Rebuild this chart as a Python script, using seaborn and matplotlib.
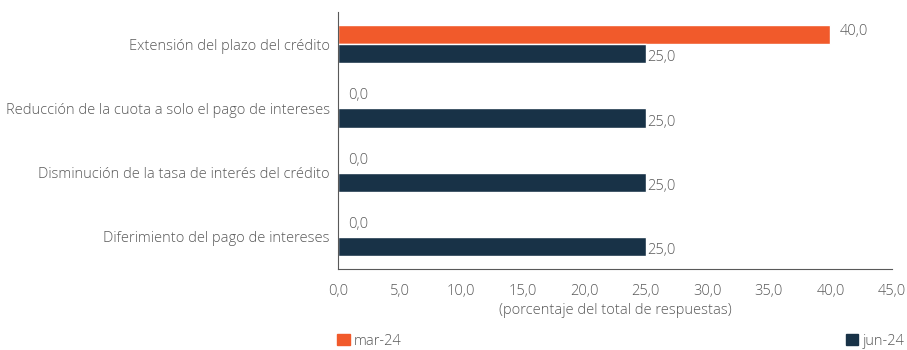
import matplotlib
matplotlib.use("Agg")
import matplotlib.pyplot as plt
import matplotlib.patches as mpatches
import seaborn as sns
import pandas as pd
import numpy as np

categories = [
    "Extensión del plazo del crédito",
    "Reducción de la cuota a solo el pago de intereses",
    "Disminución de la tasa de interés del crédito",
    "Diferimiento del pago de intereses",
]
series_names = ["mar-24", "jun-24"]
mar24 = [40.0, 0.0, 0.0, 0.0]
jun24 = [25.0, 25.0, 25.0, 25.0]
xticks = [0, 5, 10, 15, 20, 25, 30, 35, 40, 45]
xlabel = "(porcentaje del total de respuestas)"

colors = {"mar-24": "#F15A2B", "jun-24": "#183247"}
text_color = "#595959"
fs = 10.5

df = pd.DataFrame({
    "cat": categories * 2,
    "val": mar24 + jun24,
    "serie": [series_names[0]] * len(categories) + [series_names[1]] * len(categories),
})

sns.set_style("white")
plt.rcParams["font.family"] = ["Open Sans", "DejaVu Sans"]
plt.rcParams["font.weight"] = "light"
plt.rcParams["axes.labelweight"] = "light"

fig = plt.figure(figsize=(9.07, 3.5), dpi=100)
ax = fig.add_axes([338 / 907, 1 - 269 / 350, (892 - 338) / 907, (269 - 12) / 350])

sns.barplot(data=df, y="cat", x="val", hue="serie", order=categories,
            hue_order=series_names, palette=colors, orient="h",
            width=0.6, ax=ax, legend=False, saturation=1)

ax.set_xlim(0, 45)
ax.set_ylim(3.5, -0.5)
ax.set_xticks(xticks)
ax.set_xticklabels([f"{v:.1f}".replace(".", ",") for v in xticks],
                   fontsize=fs, color=text_color, fontweight="light")
ax.set_xlabel(xlabel, fontsize=fs, color=text_color, labelpad=3, fontweight="light")
ax.set_ylabel("")
ax.set_yticks(range(len(categories)))
ax.set_yticklabels(categories, fontsize=fs, color=text_color, fontweight="light")
ax.tick_params(axis="y", length=0, pad=6)
ax.set_yticks(np.arange(-0.5, len(categories), 1.0), minor=True)
ax.tick_params(axis="y", which="minor", length=5, direction="out", color="#595959", width=0.8)
ax.tick_params(axis="x", direction="in", length=4, color="#595959", width=0.8, pad=11)

for s in ["top", "right"]:
    ax.spines[s].set_visible(False)
for s in ["left", "bottom"]:
    ax.spines[s].set_color("#595959")
    ax.spines[s].set_linewidth(0.8)

# value labels
offsets = {"mar-24": 7, "jun-24": 1}
for container, name in zip(ax.containers, series_names):
    for bar in container:
        w = bar.get_width()
        yc = bar.get_y() + bar.get_height() / 2
        dy = 2 if name == "mar-24" else -3
        ax.annotate(f"{w:.1f}".replace(".", ","), (w, yc),
                    xytext=(offsets[name], dy), textcoords="offset points",
                    ha="left", va="center", fontsize=fs, color=text_color,
                    fontweight="light", annotation_clip=False)

# legends
h1 = mpatches.Patch(color=colors["mar-24"], label="mar-24")
h2 = mpatches.Patch(color=colors["jun-24"], label="jun-24")
for h, loc, x in [(h1, "lower left", 336 / 907), (h2, "lower right", 906 / 907)]:
    fig.legend(handles=[h], loc=loc, bbox_to_anchor=(x, 0.0),
               frameon=False, handlelength=0.85, handleheight=0.85,
               handletextpad=0.3, labelcolor=text_color, borderaxespad=0,
               borderpad=0.1, prop={"weight": "light", "size": fs})

fig.savefig("out.png", dpi=100)
